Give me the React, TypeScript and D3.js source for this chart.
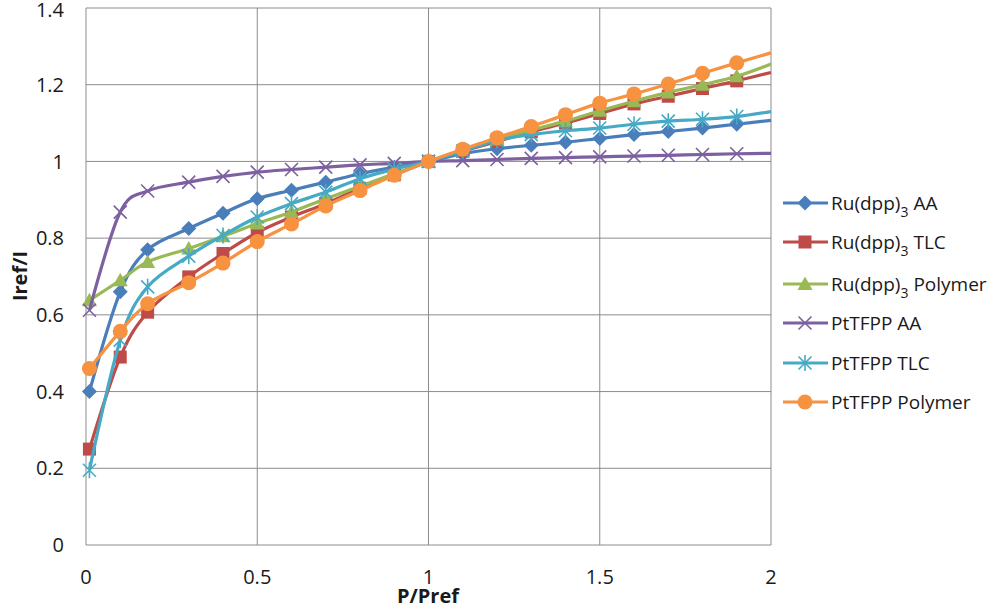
import React from "react";
import * as d3 from "d3";

const xValues = [0.01, 0.1, 0.18, 0.3, 0.4, 0.5, 0.6, 0.7, 0.8, 0.9, 1.0, 1.1, 1.2, 1.3, 1.4, 1.5, 1.6, 1.7, 1.8, 1.9];
// the lines run on to the right edge of the plot (x = 2) without a marker there
const xEnd = 2.0;

const ruAA = [0.40, 0.66, 0.77, 0.825, 0.865, 0.903, 0.925, 0.946, 0.968, 0.985, 1.0, 1.02, 1.033, 1.042, 1.05, 1.06, 1.07, 1.078, 1.087, 1.097];
const ruTLC = [0.25, 0.49, 0.607, 0.699, 0.76, 0.815, 0.855, 0.89, 0.93, 0.965, 1.0, 1.027, 1.052, 1.077, 1.10, 1.125, 1.15, 1.17, 1.19, 1.21];
const ruPolymer = [0.638, 0.69, 0.738, 0.773, 0.805, 0.838, 0.868, 0.903, 0.935, 0.968, 1.0, 1.03, 1.057, 1.082, 1.105, 1.132, 1.157, 1.18, 1.2, 1.222];
const ptAA = [0.612, 0.868, 0.923, 0.946, 0.961, 0.972, 0.979, 0.985, 0.991, 0.995, 1.0, 1.002, 1.005, 1.008, 1.01, 1.012, 1.014, 1.016, 1.018, 1.02];
const ptTLC = [0.195, 0.534, 0.673, 0.753, 0.807, 0.855, 0.89, 0.92, 0.955, 0.98, 1.0, 1.027, 1.055, 1.07, 1.08, 1.087, 1.097, 1.105, 1.11, 1.117];
const ptPolymer = [0.46, 0.557, 0.629, 0.684, 0.735, 0.791, 0.837, 0.884, 0.924, 0.964, 1.0, 1.032, 1.062, 1.091, 1.122, 1.152, 1.176, 1.202, 1.23, 1.257];
const endValues = [1.107, 1.232, 1.254, 1.021, 1.13, 1.283];

const xTicks = [0, 0.5, 1, 1.5, 2];
const yTicks = [0, 0.2, 0.4, 0.6, 0.8, 1, 1.2, 1.4];

type Marker = "diamond" | "square" | "triangle" | "x" | "star" | "circle";
const series: { name: string; sub?: string; rest: string; color: string; marker: Marker; values: number[] }[] = [
  { name: "Ru(dpp)", sub: "3", rest: " AA", color: "#4A7EBB", marker: "diamond", values: ruAA },
  { name: "Ru(dpp)", sub: "3", rest: " TLC", color: "#BE4B48", marker: "square", values: ruTLC },
  { name: "Ru(dpp)", sub: "3", rest: " Polymer", color: "#98B954", marker: "triangle", values: ruPolymer },
  { name: "PtTFPP AA", rest: "", color: "#7D60A0", marker: "x", values: ptAA },
  { name: "PtTFPP TLC", rest: "", color: "#46AAC5", marker: "star", values: ptTLC },
  { name: "PtTFPP Polymer", rest: "", color: "#F69240", marker: "circle", values: ptPolymer },
];

function MarkerShape({ type, x, y, color }: { type: Marker; x: number; y: number; color: string }) {
  switch (type) {
    case "diamond":
      return <path d={`M${x},${y - 7.5}L${x + 7.5},${y}L${x},${y + 7.5}L${x - 7.5},${y}Z`} fill={color} />;
    case "square":
      return <rect x={x - 6.5} y={y - 6.5} width={13} height={13} fill={color} />;
    case "triangle":
      return <path d={`M${x},${y - 7.5}L${x + 7.5},${y + 6}L${x - 7.5},${y + 6}Z`} fill={color} />;
    case "x":
      return <path d={`M${x - 6.5},${y - 6.5}L${x + 6.5},${y + 6.5}M${x - 6.5},${y + 6.5}L${x + 6.5},${y - 6.5}`} stroke={color} strokeWidth={1.6} fill="none" />;
    case "star":
      return <path d={`M${x - 6.5},${y - 6.5}L${x + 6.5},${y + 6.5}M${x - 6.5},${y + 6.5}L${x + 6.5},${y - 6.5}M${x},${y - 8}L${x},${y + 8}`} stroke={color} strokeWidth={1.6} fill="none" />;
    case "circle":
      return <circle cx={x} cy={y} r={7.5} fill={color} />;
  }
}

export default function App() {
  const width = 1000;
  const height = 608;
  const left = 86, right = 771, top = 8, bottom = 545;
  const x = d3.scaleLinear().domain([0, 2]).range([left, right]);
  const y = d3.scaleLinear().domain([0, 1.4]).range([bottom, top]);
  const line = d3
    .line<[number, number]>()
    .x((d) => x(d[0]))
    .y((d) => y(d[1]))
    .curve(d3.curveCatmullRom.alpha(0));
  const font = "'Open Sans', 'Liberation Sans', sans-serif";
  const legendY = [203, 242, 284, 323, 363, 402];

  return (
    <svg width={width} height={height} style={{ position: "absolute", left: 0, top: 0, background: "#fff" }} fontFamily={font}>
      {xTicks.map((t) => (
        <line key={"gx" + t} x1={x(t)} x2={x(t)} y1={top} y2={bottom} stroke="#8c8c8c" strokeWidth={1} />
      ))}
      {yTicks.map((t) => (
        <line key={"gy" + t} x1={left} x2={right} y1={y(t)} y2={y(t)} stroke="#8c8c8c" strokeWidth={1} />
      ))}
      {series.map((s, si) => {
        const pts: [number, number][] = s.values.map((v, i) => [xValues[i], v] as [number, number]);
        pts.push([xEnd, endValues[si]]);
        return (
          <g key={s.name + s.rest}>
            <path d={line(pts) || ""} fill="none" stroke={s.color} strokeWidth={3.2} strokeLinejoin="round" />
            {s.values.map((v, i) => (
              <MarkerShape key={i} type={s.marker} x={x(xValues[i])} y={y(v)} color={s.color} />
            ))}
          </g>
        );
      })}
      {yTicks.map((t) => (
        <text key={"ty" + t} x={64} y={Math.max(y(t), 9.5)} dy="0.36em" textAnchor="end" fontSize={20} fill="#1a1a1a">
          {d3.format("")(t)}
        </text>
      ))}
      {xTicks.map((t) => (
        <text key={"tx" + t} x={x(t)} y={584} textAnchor="middle" fontSize={20} fill="#1a1a1a">
          {d3.format("")(t)}
        </text>
      ))}
      <text x={428} y={603} textAnchor="middle" fontSize={20} fontWeight="bold" fill="#1a1a1a">P/Pref</text>
      <text transform={`translate(27,${276}) rotate(-90)`} textAnchor="middle" fontSize={20} fontWeight="bold" fill="#1a1a1a">Iref/I</text>
      {series.map((s, i) => (
        <g key={"lg" + i}>
          <line x1={783} x2={828} y1={legendY[i]} y2={legendY[i]} stroke={s.color} strokeWidth={3.2} />
          <MarkerShape type={s.marker} x={805} y={legendY[i]} color={s.color} />
          <text x={831} y={legendY[i]} dy="0.36em" fontSize={19} fill="#1a1a1a">
            {s.name}
            {s.sub && <tspan dy={7} fontSize={14}>{s.sub}</tspan>}
            {s.sub && <tspan dy={-7}>{s.rest}</tspan>}
          </text>
        </g>
      ))}
    </svg>
  );
}
